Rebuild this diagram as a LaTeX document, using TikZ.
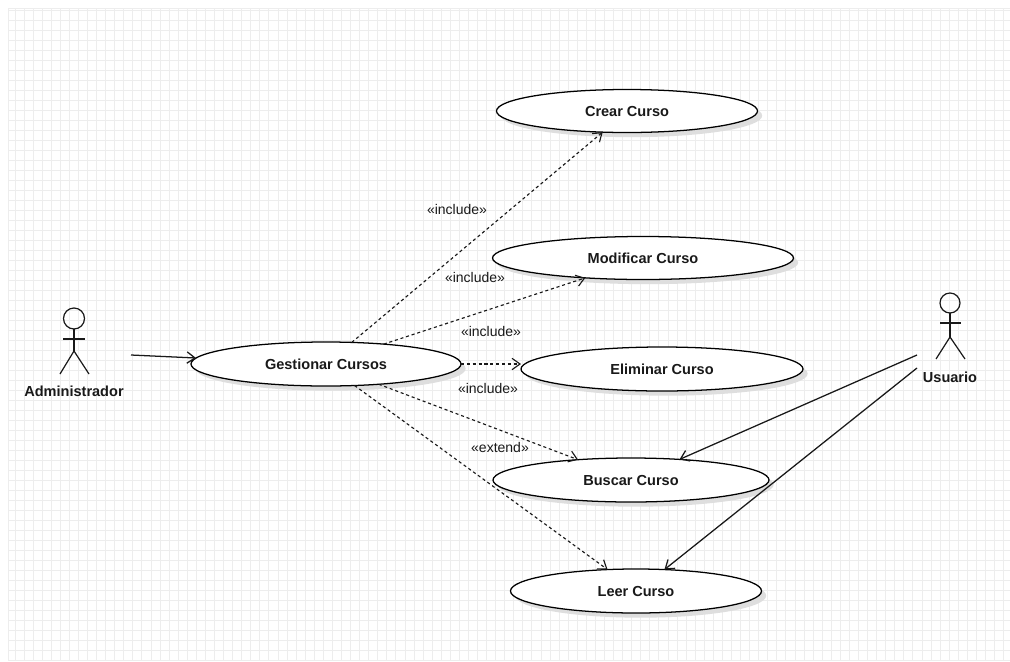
\documentclass[tikz,border=0pt]{standalone}
\usepackage{fontspec}
\setmainfont{Liberation Sans}
\usetikzlibrary{arrows.meta,shapes.geometric,shadows,calc}
\tikzset{
  uc/.style={ellipse, draw=black, line width=0.95pt, fill=white, inner sep=0pt, outer sep=0pt,
    font=\bfseries\fontsize{10.9}{12}\selectfont, text=black!90,
    drop shadow={shadow xshift=3.5pt, shadow yshift=-3.5pt, fill=black!13, opacity=1}},
  dep/.style={dash pattern=on 2.3pt off 2.1pt, line width=0.85pt, draw=black!90,
    -{Straight Barb[length=6pt,width=8.5pt]}},
  assoc/.style={line width=0.95pt, draw=black!90, -{Straight Barb[length=6pt,width=8.5pt]}},
  stereo/.style={font=\fontsize{10.5}{12}\selectfont, text=black!90, inner sep=0pt},
  actorlbl/.style={font=\bfseries\fontsize{10.9}{12}\selectfont, text=black!90, inner sep=0pt},
  gridline/.style={draw=black!7, line width=0.75pt},
  stick/.style={line width=0.9pt, draw=black!90},
}
\begin{document}
\begin{tikzpicture}[x=0.75pt, y=-0.75pt]
\useasboundingbox (0,0) rectangle (1010,661);
\fill[white] (0,0) rectangle (1010,661);
% grid
\foreach \i in {0,...,110} {
  \draw[gridline] ({15+9.07*\i},8) -- ({15+9.07*\i},661);
}
\draw[gridline] (8,8) -- (8,661);
\foreach \j in {1,...,66} {
  \draw[gridline] (8,{10*\j}) -- (1010,{10*\j});
}
\draw[gridline] (8,8) -- (1010,8);

% use cases
\node[uc, minimum width=270*0.75pt, minimum height=44*0.75pt] (gest) at (326,364) {Gestionar Cursos};
\node[uc, minimum width=261*0.75pt, minimum height=43*0.75pt] (crear) at (627,111) {Crear Curso};
\node[uc, minimum width=301*0.75pt, minimum height=43*0.75pt] (modif) at (643,258) {Modificar Curso};
\node[uc, minimum width=282*0.75pt, minimum height=44*0.75pt] (elim) at (662,369) {Eliminar Curso};
\node[uc, minimum width=276*0.75pt, minimum height=44*0.75pt] (buscar) at (631,480) {Buscar Curso};
\node[uc, minimum width=251*0.75pt, minimum height=44*0.75pt] (leer) at (636,591) {Leer Curso};

% actor Administrador
\draw[stick] (74,318.5) circle [radius=10.5];
\draw[stick] (74,329) -- (74,351);
\draw[stick] (63,339) -- (85,339);
\draw[stick] (60,374) -- (74,351) -- (89,374);
\node[actorlbl] (admin) at (74,391) {Administrador};
\coordinate (adminR) at (131,355);

% actor Usuario
\draw[stick] (950,303) circle [radius=10];
\draw[stick] (950,313) -- (950,337);
\draw[stick] (940,323) -- (961,323);
\draw[stick] (936,359) -- (950,337) -- (965,359);
\node[actorlbl] (usuario) at (950,377) {Usuario};
\coordinate (usrA) at (917,355);
\coordinate (usrB) at (917,368);

% connectors
\draw[assoc] (adminR) -- (gest);
\draw[dep] (gest.40) -- (crear.221.6);
\draw[dep] (gest.19) -- (modif.199.4);
\draw[dep] (gest.east) -- (gest.east -| elim.west);
\draw[dep] (gest.-21.3) -- (buscar.159);
\draw[dep] (gest.-37.5) -- (leer.143.4);
\draw[assoc] (usrA) -- (buscar.23.9);
\draw[assoc] (usrB) -- (leer.37.5);

% stereotype labels
\node[stereo] (l1) at (457,209) {«include»};
\node[stereo] (l2) at (475,277) {«include»};
\node[stereo] (l3) at (491,331) {«include»};
\node[stereo] (l4) at (488,388) {«include»};
\node[stereo] (l5) at (500,447) {«extend»};
\end{tikzpicture}
\end{document}
